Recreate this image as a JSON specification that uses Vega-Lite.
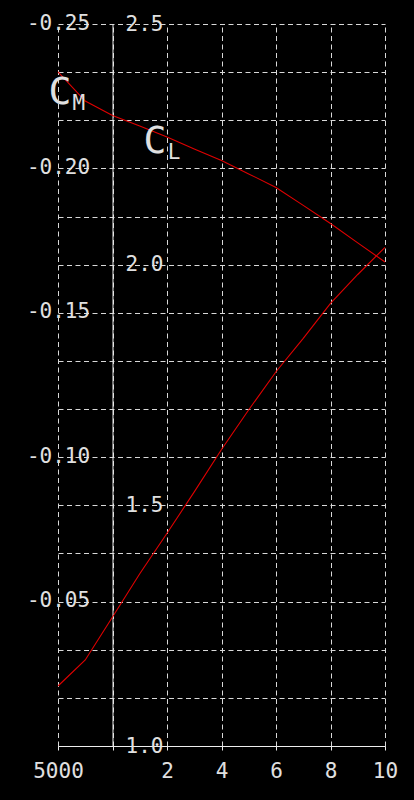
{
  "$schema": "https://vega.github.io/schema/vega-lite/v6.json",
  "width": 327,
  "height": 722,
  "autosize": "none",
  "padding": {"left": 58, "top": 24, "right": 29, "bottom": 54},
  "background": "black",
  "config": {
    "view": {"stroke": null},
    "axis": {
      "labelFont": "DejaVu Sans Mono",
      "labelFontSize": 21,
      "labelColor": "#e0e0e0",
      "gridColor": "#d8d8d8",
      "gridDash": [5, 3.5],
      "gridWidth": 1,
      "gridOpacity": 1,
      "domainColor": "#ededed",
      "domainWidth": 1,
      "tickColor": "#ededed",
      "title": null,
      "labelFlush": false,
      "labelOverlap": false
    }
  },
  "datasets": {
    "polar": [
      {"alpha": -2, "cm": -0.2334, "cl": 1.1247},
      {"alpha": -1, "cm": -0.2233, "cl": 1.1787},
      {"alpha": 0, "cm": -0.2183, "cl": 1.2680},
      {"alpha": 1, "cm": -0.2147, "cl": 1.3580},
      {"alpha": 2, "cm": -0.2109, "cl": 1.4419},
      {"alpha": 3, "cm": -0.2067, "cl": 1.5279},
      {"alpha": 4, "cm": -0.2027, "cl": 1.6160},
      {"alpha": 5, "cm": -0.1981, "cl": 1.6985},
      {"alpha": 6, "cm": -0.1934, "cl": 1.7776},
      {"alpha": 7, "cm": -0.1872, "cl": 1.8470},
      {"alpha": 8, "cm": -0.1809, "cl": 1.9197},
      {"alpha": 9, "cm": -0.1742, "cl": 1.9796},
      {"alpha": 10, "cm": -0.1676, "cl": 2.0361}
    ],
    "tags": [
      {"letter": "C", "sub": "M", "alpha": -1.93, "cl": 2.357},
      {"letter": "C", "sub": "L", "alpha": 1.56, "cl": 2.255}
    ]
  },
  "encoding": {
    "x": {
      "field": "alpha",
      "type": "quantitative",
      "scale": {"domain": [-2, 10], "nice": false, "zero": false},
      "axis": {
        "values": [-2, 0, 2, 4, 6, 8, 10],
        "grid": true,
        "tickSize": 4,
        "labelPadding": 27,
        "labelBaseline": "alphabetic",
        "labelExpr": "datum.value == -2 ? '5000' : (datum.value == 0 ? '' : datum.label)"
      }
    }
  },
  "layer": [
    {
      "data": {"name": "polar"},
      "encoding": {
        "y": {
          "field": "cm",
          "type": "quantitative",
          "scale": {"domain": [-0.25, 0], "reverse": true, "nice": false, "zero": false},
          "axis": {
            "orient": "left",
            "values": [-0.25, -0.2, -0.15, -0.1, -0.05],
            "grid": false,
            "domain": false,
            "ticks": false,
            "tickSize": 0,
            "labelPadding": 0,
            "labelAlign": "center",
            "labelBaseline": "middle",
            "labelOffset": -1,
            "labelExpr": "'-' + format(abs(datum.value), '.2f')"
          }
        }
      },
      "layer": [
        {"mark": {"type": "line", "color": "#e00000", "strokeWidth": 1.1}}
      ]
    },
    {
      "encoding": {
        "y": {
          "field": "cl",
          "type": "quantitative",
          "scale": {"domain": [1.0, 2.5], "nice": false, "zero": false},
          "axis": {
            "orient": "left",
            "offset": -54.5,
            "values": [1.0, 1.1, 1.2, 1.3, 1.4, 1.5, 1.6, 1.7, 1.8, 1.9, 2.0, 2.1, 2.2, 2.3, 2.4, 2.5],
            "grid": true,
            "domain": true,
            "ticks": false,
            "tickSize": 0,
            "labelPadding": -12.5,
            "labelAlign": "left",
            "labelBaseline": "middle",
            "labelExpr": "abs(datum.value * 2 - round(datum.value * 2)) < 0.001 ? format(datum.value, '.1f') : ''"
          }
        }
      },
      "layer": [
        {
          "data": {"name": "polar"},
          "mark": {"type": "line", "color": "#e00000", "strokeWidth": 1.1}
        },
        {
          "data": {"name": "tags"},
          "mark": {"type": "text", "font": "DejaVu Sans Mono", "fontSize": 38, "color": "#e0e0e0", "align": "center", "baseline": "middle"},
          "encoding": {"text": {"field": "letter"}}
        },
        {
          "data": {"name": "tags"},
          "mark": {"type": "text", "font": "DejaVu Sans Mono", "fontSize": 21, "color": "#e0e0e0", "align": "center", "baseline": "middle", "dx": 19, "dy": 11},
          "encoding": {"text": {"field": "sub"}}
        }
      ]
    }
  ],
  "resolve": {"scale": {"y": "independent"}, "axis": {"y": "independent"}}
}
